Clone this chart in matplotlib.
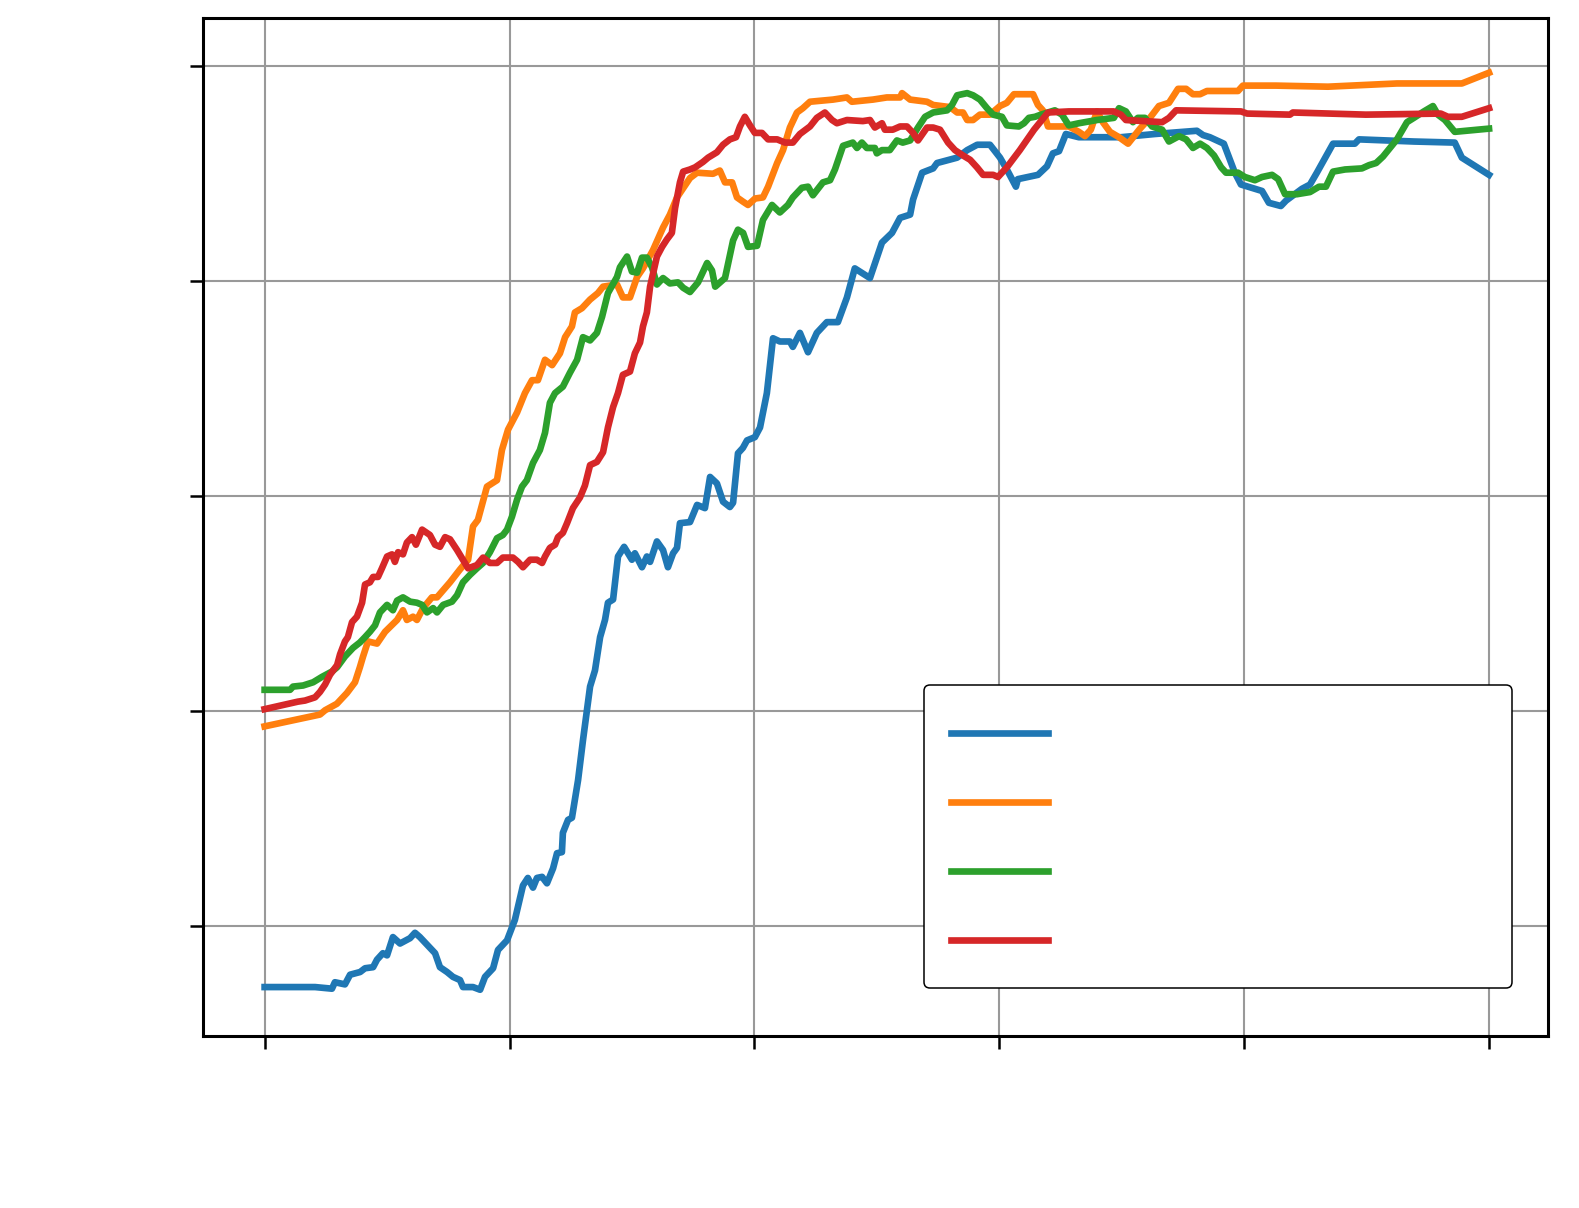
import matplotlib
matplotlib.use("Agg")
import numpy as np
import matplotlib.pyplot as plt
from matplotlib.legend_handler import HandlerLine2D
from matplotlib.lines import Line2D

# Epoch (x) and accuracy-like values (y)
blue_x = [0, 20.6, 27.5, 28.7, 32.8, 34.9, 39.0, 41.0, 44.3, 45.9, 48.3, 50.0, 52.4, 55.3, 59.4, 61.4, 63.4, 66.3,
          69.6, 71.6, 74.5, 76.9, 79.8, 81.0, 85.1, 88.0, 90.0, 93.3, 95.3, 99.0, 102.2, 105.5, 107.5, 109.6, 111.2,
          113.3, 115.3, 117.8, 119.4, 121.4, 121.8, 123.9, 125.5, 128.0, 130.0, 132.9, 134.9, 137.0, 139.0, 140.2,
          142.3, 144.3, 146.8, 150.0, 151.2, 154.1, 156.1, 157.4, 160.2, 162.7, 164.7, 166.8, 168.4, 169.6, 173.7,
          176.6, 179.8, 181.9, 184.7, 187.2, 190.0, 191.3, 193.3, 195.3, 197.0, 200.2, 202.3, 205.1, 207.6, 210.4,
          214.5, 215.7, 218.6, 221.9, 225.5, 229.6, 234.1, 237.8, 241.0, 247.2, 252.1, 256.2, 259.5, 263.6, 264.8,
          268.5, 273.0, 274.6, 282.8, 286.9, 291.0, 296.2, 300.3, 303.1, 306.8, 307.6, 315.8, 319.5, 321.9, 324.4,
          327.2, 332.5, 349.7, 363.6, 380.7, 383.2, 386.0, 388.9, 391.7, 396.2, 398.7, 404.4, 407.3, 410.1, 415.0,
          417.1, 423.6, 426.9, 429.7, 436.3, 445.2, 446.9, 469.3, 486.0, 488.9, 500]
blue_y = [14.35, 14.35, 14.2, 14.8, 14.6, 15.5, 15.75, 16.1, 16.2, 16.9, 17.5, 17.3, 19.0, 18.4, 18.9, 19.4, 19.0, 18.3,
          17.5, 16.2, 15.75, 15.3, 15.0, 14.35, 14.35, 14.1, 15.3, 16.1, 17.8, 18.7, 20.6, 23.8, 24.5, 23.6, 24.5,
          24.6, 24.0, 25.4, 26.8, 26.9, 28.7, 29.9, 30.1, 33.6, 37.3, 42.3, 43.8, 46.9, 48.5, 50.1,
          50.4, 54.4, 55.3, 54.1, 54.7, 53.4, 54.4, 53.9, 55.8, 55.0, 53.4, 54.7, 55.2, 57.5, 57.6,
          59.2, 58.9, 61.8, 61.2, 59.5, 59.0, 59.4, 64.0, 64.5, 65.2, 65.5, 66.4, 69.6, 74.7, 74.4,
          74.4, 73.9, 75.2, 73.4, 75.2, 76.2, 76.2, 78.5, 81.2, 80.3, 83.6, 84.5, 85.9, 86.2, 87.6,
          90.1, 90.5, 91.0, 91.5, 92.2, 92.7, 92.7, 91.5, 90.4, 88.8, 89.5, 89.9, 90.7, 91.9, 92.1,
          93.7, 93.4, 93.4, 93.7, 94.0, 93.6, 93.4, 93.1, 92.8, 90.1, 89.0, 88.6, 88.4, 87.3, 87.0,
          87.5, 88.6, 89.0, 90.1, 92.8, 92.8, 93.2, 93.0, 92.9, 91.5, 89.9]

orange_x = [0, 22.6, 24.7, 29.5, 33.6, 36.9, 38.9, 40.2, 42.2, 45.9, 49.2, 54.1, 56.5, 58.1, 60.6, 62.2, 64.7, 68.3,
            70.4, 75.7, 79.8, 83.1, 85.1, 87.1, 90.8, 94.9, 96.9, 99.4, 103.1, 106.3, 109.2, 111.6, 114.5, 117.4,
            120.6, 122.7, 125.5, 126.7, 129.6, 132.9, 136.1, 138.2, 143.9, 146.3, 149.2, 152.1, 154.5, 158.6, 162.7,
            165.5, 168.4, 173.7, 176.6, 183.1, 185.9, 188.0, 190.9, 192.9, 195.4, 197.4, 200.3, 203.5, 205.6, 209.3,
            211.7, 214.5, 217.4, 219.8, 222.7, 232.1, 237.8, 239.8, 248.4, 254.1, 259.5, 260.3, 263.6, 270.5, 273.0,
            279.9, 282.8, 285.2, 286.9, 289.3, 292.1, 296.2, 300.3, 303.1, 306.0, 313.8, 315.8, 317.8, 319.9, 328.4,
            332.5, 335.0, 337.4, 339.9, 342.3, 345.2, 348.9, 352.6, 357.5, 361.5, 365.2, 369.3, 373.0, 376.3, 379.1,
            382.0, 384.8, 397.5, 399.5, 413.0, 434.2, 462.4, 488.9, 500]
orange_y = [38.6, 39.7, 40.1, 40.7, 41.7, 42.7, 44.1, 45.1, 46.5, 46.3, 47.4, 48.5, 49.4, 48.5, 48.8, 48.5, 49.6, 50.6,
            50.6, 52.0, 53.2, 54.1, 57.2, 57.8, 60.9, 61.5, 64.3, 66.2, 67.8, 69.6, 70.8, 70.8, 72.7, 72.2,
            73.3, 74.8, 75.8, 77.1, 77.5, 78.3, 78.9, 79.5, 79.7, 78.5, 78.5, 80.4, 81.2, 82.9, 85.0,
            86.2, 87.8, 89.6, 90.1, 90.0, 90.3, 89.2, 89.2, 87.8, 87.4, 87.1, 87.7, 87.8, 88.8, 91.0,
            92.2, 94.3, 95.7, 96.1, 96.7, 96.9, 97.1, 96.7, 96.9, 97.1, 97.1, 97.5, 96.9, 96.7, 96.4,
            96.2, 95.7, 95.7, 95.0, 95.0, 95.5, 95.5, 96.3, 96.6, 97.4, 97.4, 96.4, 95.9, 94.4, 94.4,
            93.9, 93.5, 94.1, 95.8, 94.8, 93.9, 93.4, 92.8, 94.2, 95.2, 96.3, 96.6, 97.9, 97.9, 97.4,
            97.4, 97.7, 97.7, 98.2, 98.2, 98.1, 98.4, 98.4, 99.4]

green_x = [0, 10.4, 11.6, 15.7, 19.8, 23.4, 27.5, 29.6, 32.8, 36.1, 38.9, 41.0, 43.0, 45.1, 47.1, 50.0, 52.4, 54.1,
           56.5, 59.4, 62.2, 64.3, 66.3, 68.8, 70.4, 72.9, 76.5, 78.6, 81.0, 83.9, 86.7, 89.2, 92.0, 94.9, 97.3,
           99.0, 101.0, 103.1, 105.1, 107.1, 109.6, 112.4, 114.5, 116.5, 118.6, 121.8, 124.7, 127.6, 130.0, 132.9,
           135.7, 137.8, 140.2, 143.9, 145.1, 148.0, 150.0, 152.1, 154.1, 156.1, 158.2, 160.2, 162.7, 165.5, 168.8,
           170.9, 173.7, 177.0, 180.7, 182.7, 184.0, 188.0, 191.3, 193.3, 195.4, 197.4, 201.1, 203.5, 207.2, 210.4,
           213.7, 215.7, 219.4, 221.9, 223.9, 228.0, 230.9, 232.9, 236.2, 240.2, 241.9, 243.9, 245.9, 249.2, 250.0,
           252.1, 255.3, 258.2, 260.6, 263.6, 266.8, 269.7, 273.0, 278.7, 280.7, 282.8, 286.9, 289.3, 292.1, 295.0,
           297.5, 301.1, 303.1, 308.0, 310.1, 312.1, 314.6, 317.0, 322.7, 325.6, 328.4, 332.5, 339.9, 346.8, 348.9,
           351.7, 354.6, 356.6, 359.5, 362.4, 366.5, 369.3, 373.4, 376.3, 379.1, 382.0, 384.8, 387.7, 390.6, 392.6,
           397.5, 400.3, 404.4, 407.3, 411.4, 413.9, 416.7, 421.6, 426.9, 430.6, 433.4, 436.3, 441.2, 448.1, 451.0,
           453.9, 456.7, 462.4, 466.5, 469.3, 473.4, 477.1, 479.1, 482.0, 486.0, 500]
green_y = [42.0, 42.0, 42.3, 42.4, 42.7, 43.2, 43.7, 44.1, 45.1, 45.9, 46.4, 46.9, 47.4, 48.0, 49.2, 49.9, 49.4, 50.3,
           50.6, 50.2, 50.1, 49.9, 49.2, 49.6, 49.2, 49.9, 50.2, 50.8, 52.0, 52.7, 53.3, 53.8, 54.8, 56.1, 56.4,
           56.9, 58.1, 59.7, 60.9, 61.5, 63.1, 64.3, 65.9, 68.7, 69.6, 70.2, 71.5, 72.7, 74.8, 74.5,
           75.2, 76.7, 78.9, 80.4, 81.3, 82.3, 80.9, 80.8, 82.2, 82.2, 81.3, 79.7, 80.3, 79.8, 79.9,
           79.4, 79.0, 79.9, 81.7, 81.0, 79.5, 80.3, 83.8, 84.8, 84.5, 83.2, 83.3, 85.7, 87.1, 86.4,
           87.1, 87.8, 88.7, 88.8, 88.0, 89.2, 89.4, 90.4, 92.6, 92.9, 92.4, 92.9, 92.4, 92.4, 91.9,
           92.2, 92.2, 93.1, 92.9, 93.1, 94.3, 95.3, 95.7, 95.9, 96.4, 97.3, 97.5, 97.3, 96.9, 96.1,
           95.5, 95.3, 94.5, 94.4, 94.7, 95.2, 95.3, 95.5, 95.9, 95.5, 94.5, 94.7, 95.0, 95.2, 96.1,
           95.8, 94.8, 95.2, 95.2, 94.4, 94.1, 93.0, 93.5, 93.2, 92.4, 92.8, 92.4, 91.7, 90.6, 90.1,
           90.1, 89.7, 89.4, 89.7, 89.9, 89.5, 88.1, 88.1, 88.3, 88.8, 88.8, 90.2, 90.4, 90.5, 90.8,
           91.0, 91.6, 93.2, 94.8, 95.2, 95.8, 96.3, 95.5, 95.0, 93.9, 94.2]

red_x = [0, 11.6, 13.6, 16.5, 20.6, 22.6, 24.7, 26.7, 29.6, 30.8, 32.8, 34.0, 35.7, 37.7, 39.8, 41.0, 43.0, 44.3, 46.3,
         47.9, 50.0, 52.0, 53.2, 54.5, 56.5, 58.1, 60.2, 61.8, 64.3, 67.5, 69.6, 71.6, 73.7, 75.7, 78.6, 81.0, 83.1,
         86.7, 89.2, 92.0, 94.9, 97.3, 101.4, 103.5, 105.5, 108.4, 111.2, 113.3, 114.5, 116.5, 118.6, 119.8, 121.8,
         123.5, 125.9, 128.8, 130.8, 132.9, 135.7, 138.2, 140.2, 142.3, 144.3, 146.3, 149.2, 151.2, 153.3, 154.5,
         156.1, 157.4, 160.2, 162.3, 164.3, 166.3, 167.6, 169.6, 170.9, 173.7, 175.8, 179.0, 181.1, 184.7, 187.2,
         190.0, 192.5, 194.1, 196.1, 198.2, 200.2, 203.1, 205.6, 209.3, 212.5, 215.7, 218.6, 222.7, 225.5, 228.8,
         231.7, 233.7, 237.8, 244.3, 247.2, 249.2, 252.1, 253.3, 256.5, 259.5, 262.3, 264.8, 266.8, 270.5, 273.0,
         275.8, 279.1, 281.9, 285.2, 288.1, 290.9, 293.4, 297.5, 299.5, 303.1, 308.4, 314.2, 319.9, 328.4, 346.8,
         349.7, 351.7, 366.5, 369.3, 372.2, 398.7, 401.2, 418.7, 419.9, 449.7, 480.3, 483.2, 488.9, 500]
red_y = [40.2, 40.8, 40.9, 41.0, 41.3, 41.8, 42.5, 43.4, 44.3, 45.3, 46.5, 46.9, 48.3, 48.8, 50.1, 51.8, 52.0, 52.5, 52.5,
         53.3, 54.4, 54.6, 53.9, 54.8, 54.6, 55.7, 56.2, 55.5, 56.9, 56.4, 55.5, 55.3, 56.2, 56.0, 55.0, 54.1, 53.3,
         53.6, 54.3, 53.8, 53.8, 54.3, 54.3, 53.9, 53.4, 54.1, 54.1, 53.8, 54.4, 55.2, 55.5, 56.2, 56.6,
         57.5, 58.9, 59.9, 61.0, 62.9, 63.2, 64.1, 66.4, 68.3, 69.6, 71.3, 71.6, 73.3, 74.3, 75.8,
         77.1, 79.5, 82.3, 83.2, 83.9, 84.5, 86.8, 89.2, 90.2, 90.4, 90.6, 91.1, 91.5, 92.0, 92.7,
         93.2, 93.4, 94.4, 95.3, 94.5, 93.8, 93.8, 93.2, 93.2, 92.9, 92.9, 93.7, 94.4, 95.2, 95.7,
         95.0, 94.7, 95.0, 94.9, 95.0, 94.3, 94.7, 94.1, 94.1, 94.4, 94.4, 93.8, 93.1, 94.3, 94.3,
         94.1, 92.9, 92.2, 91.7, 91.3, 90.6, 89.9, 89.9, 89.7, 90.6, 92.2, 94.1, 95.7, 95.8, 95.8,
         95.5, 95.0, 94.8, 95.2, 95.9, 95.8, 95.6, 95.5, 95.7, 95.5, 95.6, 95.3, 95.3, 96.1]

x_ticks = [0, 100, 200, 300, 400, 500]
y_ticks = [20, 40, 60, 80, 100]
series = [
    (blue_x, blue_y, "#1f77b4"),
    (orange_x, orange_y, "#ff7f0e"),
    (green_x, green_y, "#2ca02c"),
    (red_x, red_y, "#d62728"),
]


class ShiftedLineHandler(HandlerLine2D):
    """Legend line handler with a vertical offset (points) for the handle."""
    def __init__(self, dy=0.0, **kw):
        super().__init__(**kw)
        self.dy = dy

    def create_artists(self, *args, **kw):
        arts = super().create_artists(*args, **kw)
        for a in arts:
            a.set_ydata(np.asarray(a.get_ydata(), dtype=float) + self.dy)
        return arts


W, H, DPI = 1579, 1208, 100
fig = plt.figure(figsize=(W / DPI, H / DPI), dpi=DPI)
ax = fig.add_axes([203.4 / W, (H - 1036.2) / H, 1344.4 / W, 1018.1 / H])

handles = []
for xs, ys, c in series:
    ln, = ax.plot(xs, ys, color=c, linewidth=4.8, solid_joinstyle="round", label=" ")
    handles.append(ln)

ax.set_xlim(-25, 524)
ax.set_ylim(9.78, 104.48)
ax.set_xticks(x_ticks)
ax.set_yticks(y_ticks)
ax.set_xticklabels([])
ax.set_yticklabels([])
ax.tick_params(axis="both", direction="out", length=9.4, width=1.8, color="black")
ax.grid(True, color="#999999", linewidth=1.5)
ax.set_axisbelow(True)
for sp in ax.spines.values():
    sp.set_linewidth(2.2)
    sp.set_color("black")

leg = ax.legend(handles, [" "] * 4, loc="upper left",
                bbox_to_anchor=(0.5363, 0.3453, 0.4374, 0.0), mode="expand",
                borderaxespad=0.0, fontsize=21.6, labelspacing=0.867,
                borderpad=0.9, handlelength=3.23, handleheight=1.817,
                handler_map={Line2D: ShiftedLineHandler(dy=-4.5)},
                fancybox=True, framealpha=1.0)
leg.get_frame().set_edgecolor("black")
leg.get_frame().set_linewidth(1.1)

fig.savefig("out.png", dpi=DPI)
